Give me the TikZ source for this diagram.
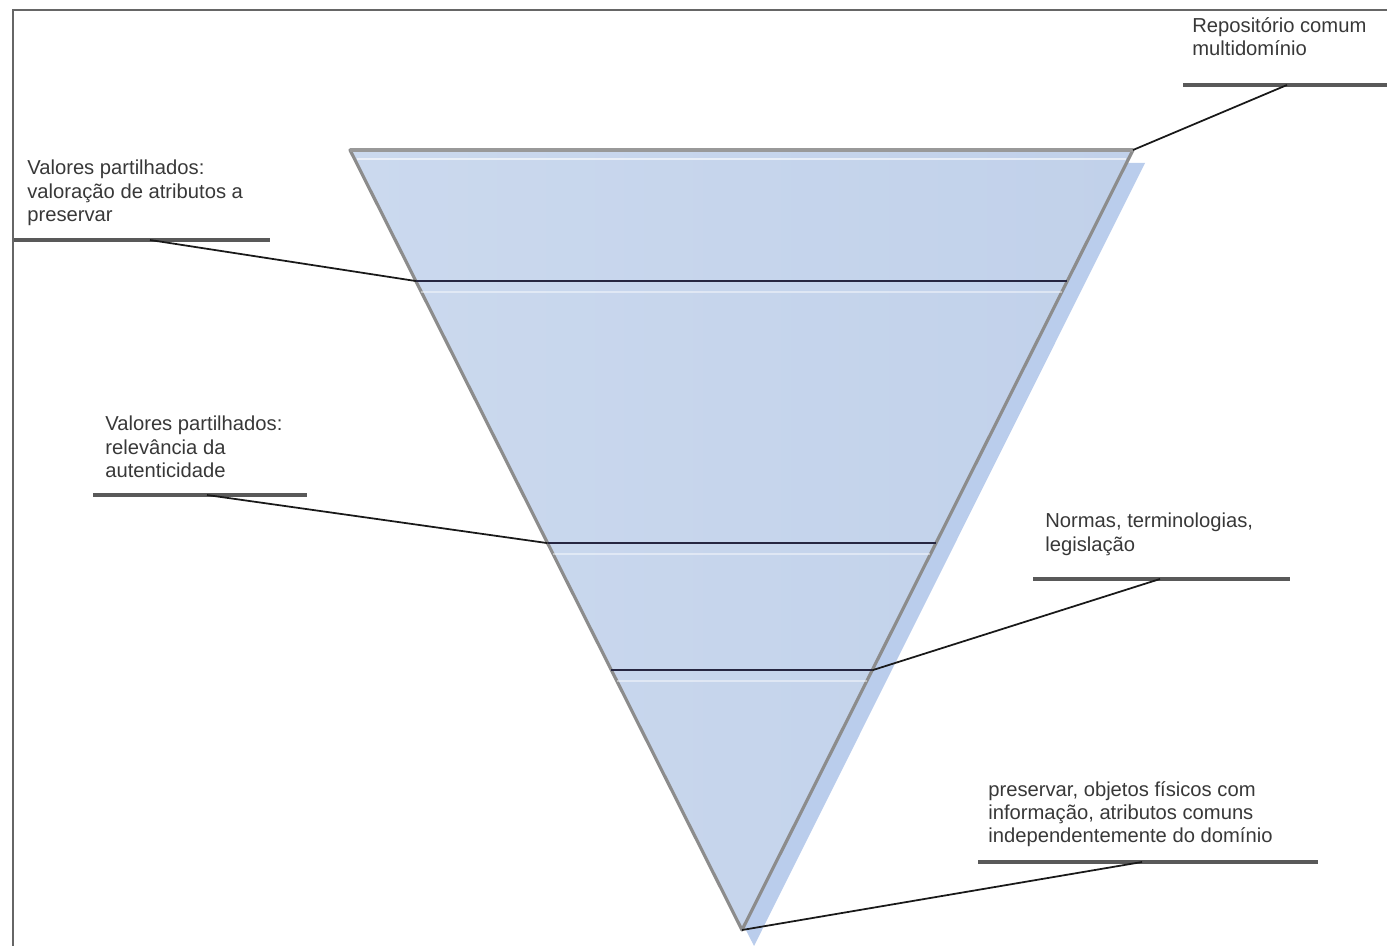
\documentclass[tikz,border=0pt]{standalone}
\usepackage{fontspec}
\setmainfont{Liberation Sans}
\usetikzlibrary{calc}
\definecolor{bandblue}{RGB}{203,217,238}
\definecolor{bandblueR}{RGB}{193,209,234}
\definecolor{shadowblue}{RGB}{186,205,236}

\begin{document}
\begin{tikzpicture}[x=0.02cm, y=-0.02cm,
    lbl/.style={anchor=north west, inner sep=0pt, align=left, text=black!78,
      font=\fontsize{11.5}{13.2}\selectfont},
    uline/.style={draw=black!65, line width=1.9pt},
    leader/.style={draw=black!90, line width=1pt},
    sepline/.style={draw=black!85!blue!70!gray, line width=1.2pt},
    glint/.style={draw=white, opacity=0.45, line width=1.2pt},
    frame/.style={draw=black!60, line width=1.6pt}]
  \useasboundingbox (0,0) rectangle (1387,946);
  \draw[frame] (1387,10) -- (13,10) -- (13,946);
  % triangle
  \coordinate (tl) at (350,150);
  \coordinate (tr) at (1133,150);
  \coordinate (apex) at (742,930);
  \fill[shadowblue] (362,163) -- (1145,163) -- (754,946) -- cycle;
  \shade[left color=bandblue, right color=bandblueR] (tl) -- (tr) -- (apex) -- cycle;
  \draw[draw=black!45, line width=1.8pt, line join=round] (tl) -- (tr) -- (apex) -- cycle;
  \draw[draw=black!40, line width=2.8pt] (tl) -- (tr);
  \draw[white, opacity=0.6, line width=1pt] ($(tl)!.012!(apex)+(2,0)$) -- ($(tr)!.012!(apex)-(2,0)$);
  % bands
  \coordinate (s1l) at ($(tl)!.168!(apex)$);
  \coordinate (s1r) at ($(tr)!.168!(apex)$);
  \coordinate (s2l) at ($(tl)!.504!(apex)$);
  \coordinate (s2r) at ($(tr)!.504!(apex)$);
  \coordinate (s3l) at ($(tl)!.667!(apex)$);
  \coordinate (s3r) at ($(tr)!.667!(apex)$);
  \draw[glint] ($(tl)!.182!(apex)$) -- ($(tr)!.182!(apex)$);
  \draw[glint] ($(tl)!.518!(apex)$) -- ($(tr)!.518!(apex)$);
  \draw[glint] ($(tl)!.681!(apex)$) -- ($(tr)!.681!(apex)$);
  \draw[sepline] (s1l) -- (s1r);
  \draw[sepline] (s2l) -- (s2r);
  \draw[sepline] (s3l) -- (s3r);
  % labels
  \node[lbl] (repo) at (1192,17) {Repositório comum\\multidomínio};
  \node[lbl] (valor) at (27,160) {Valores partilhados:\\valoração de atributos a\\preservar};
  \node[lbl] (relev) at (105,416) {Valores partilhados:\\relevância da\\autenticidade};
  \node[lbl] (normas) at (1045,513) {Normas, terminologias,\\legislação};
  \node[lbl] (objet) at (988,781) {preservar, objetos físicos com\\informação, atributos comuns\\independentemente do domínio};
  % underlines
  \coordinate (repoA) at (1183,85);   \coordinate (repoB) at (1390,85);
  \coordinate (valorA) at (14,240);   \coordinate (valorB) at (270,240);
  \coordinate (relevA) at (93,495);   \coordinate (relevB) at (307,495);
  \coordinate (normasA) at (1033,579); \coordinate (normasB) at (1290,579);
  \coordinate (objetA) at (978,862);  \coordinate (objetB) at (1318,862);
  \draw[uline] (repoA) -- (repoB);
  \draw[uline] (valorA) -- (valorB);
  \draw[uline] (relevA) -- (relevB);
  \draw[uline] (normasA) -- (normasB);
  \draw[uline] (objetA) -- (objetB);
  % leaders
  \coordinate (repoJ) at (1287,85);
  \coordinate (valorJ) at (150,240);
  \coordinate (relevJ) at (207,495);
  \coordinate (normasJ) at (1160,579);
  \coordinate (objetJ) at (1142,862);
  \draw[leader] (repoJ) -- (tr);
  \draw[leader] (valorJ) -- (s1l);
  \draw[leader] (relevJ) -- (s2l);
  \draw[leader] (normasJ) -- (s3r);
  \draw[leader] (objetJ) -- (apex);
\end{tikzpicture}
\end{document}
